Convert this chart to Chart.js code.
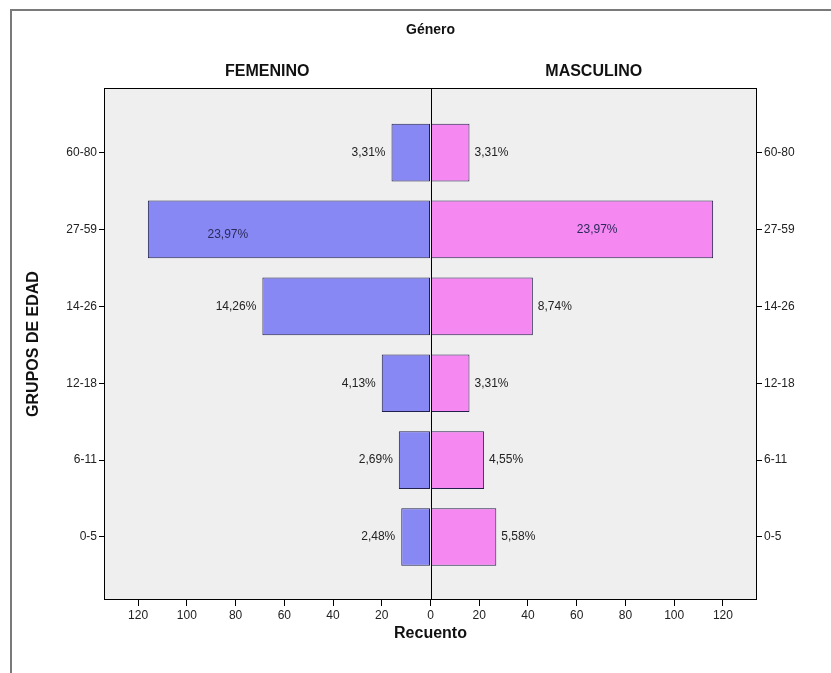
<!DOCTYPE html>
<html>
<head>
  <script src="https://cdn.jsdelivr.net/npm/chart.js"></script>
  <style>
    body { margin: 0; background: #fff; }
    #wrap { width: 831px; height: 673px; }
  </style>
</head>
<body>
  <div id="wrap"><canvas id="pyramid"></canvas></div>

  <script>
    // Age groups, bottom to top
    var grupos = ['0-5', '6-11', '12-18', '14-26', '27-59', '60-80'];
    var femenino = [12, 13, 20, 69, 116, 16];
    var masculino = [27, 22, 16, 42, 116, 16];
    var pctFem = ['2,48%', '2,69%', '4,13%', '14,26%', '23,97%', '3,31%'];
    var pctMasc = ['5,58%', '4,55%', '3,31%', '8,74%', '23,97%', '3,31%'];
    var xTicks = [-120, -100, -80, -60, -40, -20, 0, 20, 40, 60, 80, 100, 120];

    var font = "'Liberation Sans', Arial, sans-serif";

    // frame, background and texts
    var decor = {
      id: 'decor',
      beforeDatasetsDraw: function(chart) {
        var a = chart.chartArea, ctx = chart.ctx;
        ctx.save();
        ctx.fillStyle = '#efefef';
        ctx.fillRect(a.left, a.top, a.right - a.left, a.bottom - a.top);
        ctx.restore();
      },
      afterDraw: function(chart) {
        var a = chart.chartArea, ctx = chart.ctx;
        var x = chart.scales.x, y = chart.scales.y;
        var x0 = x.getPixelForValue(0);
        ctx.save();
        // outer frame
        ctx.strokeStyle = '#7a7a7a';
        ctx.lineWidth = 2;
        ctx.beginPath();
        ctx.moveTo(11, 673);
        ctx.lineTo(11, 10);
        ctx.lineTo(831, 10);
        ctx.stroke();
        // plot frame + centre line
        ctx.strokeStyle = '#000';
        ctx.lineWidth = 1;
        ctx.strokeRect(a.left + 0.5, a.top + 0.5, a.right - a.left - 1, a.bottom - a.top - 1);
        ctx.beginPath();
        ctx.moveTo(Math.round(x0) + 0.5, a.top);
        ctx.lineTo(Math.round(x0) + 0.5, a.bottom);
        ctx.stroke();

        // titles
        ctx.fillStyle = '#111';
        ctx.textAlign = 'center';
        ctx.textBaseline = 'middle';
        ctx.font = 'bold 14px ' + font;
        ctx.fillText('Género', x0, 30);
        ctx.font = 'bold 16px ' + font;
        ctx.fillText('FEMENINO', (a.left + x0) / 2, 72);
        ctx.fillText('MASCULINO', (a.right + x0) / 2, 72);
        ctx.fillText('Recuento', x0, 634);
        ctx.save();
        ctx.translate(34, (a.top + a.bottom) / 2);
        ctx.rotate(-Math.PI / 2);
        ctx.fillText('GRUPOS DE EDAD', 0, 0);
        ctx.restore();

        // percentage labels
        ctx.font = '12px ' + font;
        for (var i = 0; i < grupos.length; i++) {
          var py = y.getPixelForValue(i);
          var fEnd = x.getPixelForValue(-femenino[i]);
          var mEnd = x.getPixelForValue(masculino[i]);
          if (femenino[i] > 100) {
            ctx.fillStyle = '#2a2a5a';
            ctx.textAlign = 'center';
            ctx.fillText(pctFem[i], fEnd + 80, py + 5);
          } else {
            ctx.fillStyle = '#222';
            ctx.textAlign = 'right';
            ctx.fillText(pctFem[i], fEnd - 6, py);
          }
          if (masculino[i] > 100) {
            ctx.fillStyle = '#2a2a5a';
            ctx.textAlign = 'center';
            ctx.fillText(pctMasc[i], mEnd - 116, py);
          } else {
            ctx.fillStyle = '#222';
            ctx.textAlign = 'left';
            ctx.fillText(pctMasc[i], mEnd + 5, py);
          }
        }
        ctx.restore();
      }
    };

    function yTicks(scale) {
      scale.ticks = grupos.map(function(g, i) { return { value: i }; });
    }

    var yAxis = {
      type: 'linear',
      min: -0.82,
      max: 5.84,
      offset: false,
      afterBuildTicks: yTicks,
      grid: { offset: false, drawOnChartArea: false, drawTicks: true, tickLength: 5, color: '#000' },
      border: { display: false },
      ticks: {
        padding: 2,
        color: '#222',
        font: { family: font, size: 12 },
        callback: function(v) { return grupos[v]; }
      }
    };

    var config = {
      type: 'bar',
      data: {
        datasets: [{
          label: 'FEMENINO',
          data: femenino.map(function(v, i) { return { x: -v, y: i }; }),
          backgroundColor: '#8888f4',
          borderColor: '#20204a',
          borderWidth: 1,
          borderSkipped: false,
          grouped: false,
          barPercentage: 1,
          categoryPercentage: 0.75
        }, {
          label: 'MASCULINO',
          data: masculino.map(function(v, i) { return { x: v, y: i }; }),
          backgroundColor: '#f688f2',
          borderColor: '#20204a',
          borderWidth: 1,
          borderSkipped: false,
          grouped: false,
          barPercentage: 1,
          categoryPercentage: 0.75
        }]
      },
      options: {
        indexAxis: 'y',
        responsive: true,
        maintainAspectRatio: false,
        animation: false,
        layout: { padding: { top: 88, left: 0, right: 0, bottom: 0 } },
        plugins: {
          legend: { display: false },
          tooltip: { enabled: false }
        },
        scales: {
          x: {
            type: 'linear',
            min: -134,
            max: 134,
            afterBuildTicks: function(scale) {
              scale.ticks = xTicks.map(function(v) { return { value: v }; });
            },
            afterFit: function(scale) { scale.height = 73; },
            grid: { drawOnChartArea: false, drawTicks: true, tickLength: 6, color: '#000' },
            border: { display: false },
            ticks: {
              padding: 2,
              color: '#222',
              maxRotation: 0,
              font: { family: font, size: 12 },
              callback: function(v) { return Math.abs(v); }
            }
          },
          y: Object.assign({}, yAxis, {
            position: 'left',
            afterFit: function(scale) { scale.width = 104; }
          }),
          y2: Object.assign({}, yAxis, {
            position: 'right',
            afterFit: function(scale) { scale.width = 74; }
          })
        }
      },
      plugins: [decor]
    };

    new Chart(document.getElementById('pyramid').getContext('2d'), config);
  </script>
</body>
</html>
